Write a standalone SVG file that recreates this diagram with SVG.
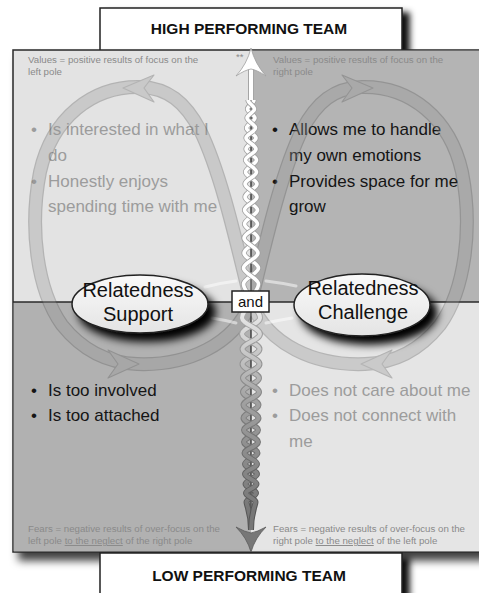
<svg xmlns="http://www.w3.org/2000/svg" width="479" height="593" viewBox="0 0 479 593">
  <style>
    .hdr { font-family: "Liberation Sans", Arial, sans-serif; font-weight: bold; font-size: 15.5px; fill: #111; text-anchor: middle; }
    .note { font-family: "Liberation Sans", Arial, sans-serif; font-size: 9.7px; fill: #8a8a8a; }
    .big { font-family: "Liberation Sans", Arial, sans-serif; font-size: 17px; }
    .dim { fill: #9c9c9c; }
    .ink { fill: #151515; }
    .pole { font-family: "Liberation Sans", Arial, sans-serif; font-size: 20px; fill: #111; text-anchor: middle; }
    .box { fill: #fff; stroke: #222; stroke-width: 1.5; }
    .ell { fill: url(#ellFill); stroke: #222; stroke-width: 1.5; }
    .div { stroke: #2a2a2a; stroke-width: 1.3; fill: none; }
  </style>
  <defs>
    <filter id="boxShadow" x="-10%" y="-20%" width="130%" height="160%">
      <feDropShadow dx="7" dy="5" stdDeviation="3" flood-color="#000" flood-opacity="0.95"/>
    </filter>
    <filter id="panelShadow" x="-10%" y="-10%" width="130%" height="130%">
      <feDropShadow dx="6" dy="8" stdDeviation="4" flood-color="#000" flood-opacity="0.75"/>
    </filter>
    <filter id="ellShadow" x="-30%" y="-40%" width="170%" height="200%">
      <feDropShadow dx="7" dy="8" stdDeviation="4" flood-color="#000" flood-opacity="1"/>
    </filter>
    <linearGradient id="ellFill" x1="0" y1="0" x2="0" y2="1">
      <stop offset="0" stop-color="#fafafa"/>
      <stop offset="1" stop-color="#e4e4e4"/>
    </linearGradient>
    <linearGradient id="ropeEdge" gradientUnits="userSpaceOnUse" x1="0" y1="315" x2="0" y2="510">
      <stop offset="0" stop-color="#a8a8a8"/>
      <stop offset="1" stop-color="#555"/>
    </linearGradient>
    <linearGradient id="ropeCore" gradientUnits="userSpaceOnUse" x1="0" y1="315" x2="0" y2="510">
      <stop offset="0" stop-color="#e6e6e6"/>
      <stop offset="0.45" stop-color="#a0a0a0"/>
      <stop offset="1" stop-color="#777"/>
    </linearGradient>
    <path id="eight" d="M251 302 C238 250 222 175 200 130 C185 102 168 88 140 87 C92 86 52 118 40 172 C29 228 37 290 62 325 C82 350 107 363 137 364 C187 366 234 345 251 302 C264 250 280 175 302 130 C317 102 334 88 362 87 C410 86 450 118 462 172 C473 228 465 290 440 325 C420 350 395 363 365 364 C315 366 268 345 251 302 Z"/>
    <path id="strandA" d="M254 100 C254 103.2 247.5 105.8 247.5 109 S255 114.8 255 118 S246.5 124.4 246.5 128 S256 134.4 256 138 S246 145 246 149 S256.5 156 256.5 160 S245.5 167.7 245.5 172 S257 179.7 257 184 S245 192.3 245 197 S257.5 205.3 257.5 210 S244.5 219 244.5 224 S258 233 258 238 S244 247.6 244 253 S258.5 262.6 258.5 268 S243.5 278.2 243.5 284 S251 296 251 300"/>
    <path id="strandB" d="M248 100 C248 103.2 254.5 105.8 254.5 109 S247 114.8 247 118 S255.5 124.4 255.5 128 S246 134.4 246 138 S256 145 256 149 S245.5 156 245.5 160 S256.5 167.7 256.5 172 S245 179.7 245 184 S257 192.3 257 197 S244.5 205.3 244.5 210 S257.5 219 257.5 224 S244 233 244 238 S258 247.6 258 253 S243.5 262.6 243.5 268 S258.5 278.2 258.5 284 S251 296 251 300"/>
    <path id="strandC" d="M251 304 S260 312 260 318 C260 323.8 242 328.2 242 334 S259.5 343.6 259.5 349 S242.5 358.6 242.5 364 S259 373 259 378 S243 387 243 392 S258.5 400.3 258.5 405 S243.5 413.3 243.5 418 S258 425.7 258 430 S244 437.7 244 442 S257.5 449 257.5 453 S245 460 245 464 S257 470.4 257 474 S245.5 480.4 245.5 484 S256 489.8 256 493 S246.5 498.8 246.5 502 S251 512 251 530"/>
    <path id="strandD" d="M251 304 S242 312 242 318 C242 323.8 260 328.2 260 334 S242.5 343.6 242.5 349 S259.5 358.6 259.5 364 S243 373 243 378 S259 387 259 392 S243.5 400.3 243.5 405 S258.5 413.3 258.5 418 S244 425.7 244 430 S258 437.7 258 442 S244.5 449 244.5 453 S257 460 257 464 S245 470.4 245 474 S256.5 480.4 256.5 484 S246 489.8 246 493 S255.5 498.8 255.5 502 S251 512 251 530"/>
  </defs>

  <!-- header box (drawn before the panel so the panel hides its lower shadow) -->
  <g id="high-team">
    <rect class="box" x="100" y="8" width="302" height="43" filter="url(#boxShadow)"/>
    <text class="hdr" x="249" y="34">HIGH PERFORMING TEAM</text>
  </g>

  <!-- four quadrants of the polarity map -->
  <g id="panel">
    <rect x="13" y="50" width="480" height="502" fill="#e3e3e3" stroke="#2a2a2a" stroke-width="1.5" filter="url(#panelShadow)"/>
    <rect x="251" y="50.75" width="228" height="251.25" fill="#b4b4b4"/>
    <rect x="13.75" y="302" width="237.25" height="249.25" fill="#b1b1b1"/>
    <rect x="251" y="302" width="228" height="249.25" fill="#e5e5e5"/>
    <line class="div" x1="13" y1="302" x2="479" y2="302"/>
    <line class="div" x1="251" y1="100" x2="251" y2="530"/>
  </g>

  <!-- quadrant notes -->
  <g id="notes">
    <text class="note" x="28" y="63">Values = positive results of focus on the</text>
    <text class="note" x="28" y="75">left pole</text>
    <text class="note" x="273" y="63">Values = positive results of focus on the</text>
    <text class="note" x="273" y="75">right pole</text>
    <text class="note" x="236" y="60">**</text>
    <text class="note" x="28" y="532">Fears = negative results of over-focus on the</text>
    <text class="note" x="28" y="544">left pole <tspan text-decoration="underline">to the neglect</tspan> of the right pole</text>
    <text class="note" x="273" y="532">Fears = negative results of over-focus on the</text>
    <text class="note" x="273" y="544">right pole <tspan text-decoration="underline">to the neglect</tspan> of the left pole</text>
  </g>

  <!-- quadrant bullet lists -->
  <g id="upsides-left" class="big dim">
    <text x="31" y="135">•</text><text x="48" y="135">Is interested in what I</text>
    <text x="48" y="161">do</text>
    <text x="31" y="187">•</text><text x="48" y="187">Honestly enjoys</text>
    <text x="48" y="212">spending time with me</text>
  </g>
  <g id="upsides-right" class="big ink">
    <text x="272" y="135">•</text><text x="289" y="135">Allows me to handle</text>
    <text x="289" y="161">my own emotions</text>
    <text x="272" y="187">•</text><text x="289" y="187">Provides space for me</text>
    <text x="289" y="212">grow</text>
  </g>
  <g id="downsides-left" class="big ink">
    <text x="31" y="396">•</text><text x="48" y="396">Is too involved</text>
    <text x="31" y="421">•</text><text x="48" y="421">Is too attached</text>
  </g>
  <g id="downsides-right" class="big dim">
    <text x="272" y="396">•</text><text x="289" y="396">Does not care about me</text>
    <text x="272" y="421">•</text><text x="289" y="421">Does not connect with</text>
    <text x="289" y="447">me</text>
  </g>

  <!-- infinity loop connectors -->
  <g id="connectors">
    <g id="loop" opacity="0.33" fill="none">
      <use href="#eight" stroke="#555" stroke-width="14"/>
      <use href="#eight" stroke="#959595" stroke-width="11.5"/>
      <g fill="#959595" stroke="#555" stroke-width="1.2" stroke-linejoin="round">
        <path d="M123 88 L154 75 L144 88 L154 102 Z"/>
        <path d="M373 88 L342 75 L352 88 L342 102 Z"/>
        <path d="M139 364 L108 350 L118 364 L108 378 Z"/>
        <path d="M361 364 L392 350 L382 364 L392 378 Z"/>
      </g>
    </g>
    <g id="glints" stroke="#fff" stroke-opacity="0.5" stroke-width="3" fill="none" stroke-linecap="round">
      <path d="M205 287 Q220 283 236 281"/>
      <path d="M212 318 Q224 320 236 323"/>
      <path d="M266 281 Q282 283 296 286"/>
      <path d="M266 323 Q280 320 292 318"/>
    </g>

    <!-- upward white rope -->
    <g id="rope-up" fill="none">
      <line x1="251" y1="60" x2="251" y2="104" stroke="#a5a5a5" stroke-width="6"/>
      <line x1="251" y1="60" x2="251" y2="104" stroke="#fff" stroke-width="4"/>
      <use href="#strandA" stroke="#a0a0a0" stroke-width="5.2"/>
      <use href="#strandA" stroke="#fff" stroke-width="3.6"/>
      <use href="#strandB" stroke="#a0a0a0" stroke-width="5.2"/>
      <use href="#strandB" stroke="#fff" stroke-width="3.6"/>
      <path d="M251 48 Q247 64 236 76 Q245 70 251 69 Q257 70 266 76 Q255 64 251 48 Z" fill="#fff" stroke="#a0a0a0" stroke-width="0.8"/>
    </g>

    <!-- downward grey rope -->
    <g id="rope-down" fill="none">
      <use href="#strandC" stroke="url(#ropeEdge)" stroke-width="6"/>
      <use href="#strandC" stroke="url(#ropeCore)" stroke-width="4"/>
      <use href="#strandD" stroke="url(#ropeEdge)" stroke-width="6"/>
      <use href="#strandD" stroke="url(#ropeCore)" stroke-width="4"/>
      <path d="M251 552 Q247 538 236 527 Q245 532 251 533 Q257 532 266 527 Q255 538 251 552 Z" fill="#777" stroke="#5a5a5a" stroke-width="0.8"/>
    </g>
  </g>

  <!-- the two poles -->
  <g id="pole-support">
    <ellipse class="ell" cx="140" cy="304" rx="68" ry="29" filter="url(#ellShadow)"/>
    <text class="pole" x="138" y="297">Relatedness</text>
    <text class="pole" x="138" y="321">Support</text>
  </g>
  <g id="pole-challenge">
    <ellipse class="ell" cx="362" cy="305" rx="68" ry="31" filter="url(#ellShadow)"/>
    <text class="pole" x="363" y="295">Relatedness</text>
    <text class="pole" x="363" y="319">Challenge</text>
  </g>
  <g id="and">
    <rect class="box" x="232" y="291" width="37" height="21"/>
    <text x="250.5" y="307" font-family="'Liberation Sans', Arial, sans-serif" font-size="15" fill="#111" text-anchor="middle">and</text>
  </g>

  <!-- footer box -->
  <g id="low-team">
    <rect class="box" x="100" y="553" width="302" height="45" filter="url(#boxShadow)"/>
    <text class="hdr" x="249" y="581">LOW PERFORMING TEAM</text>
  </g>
</svg>
